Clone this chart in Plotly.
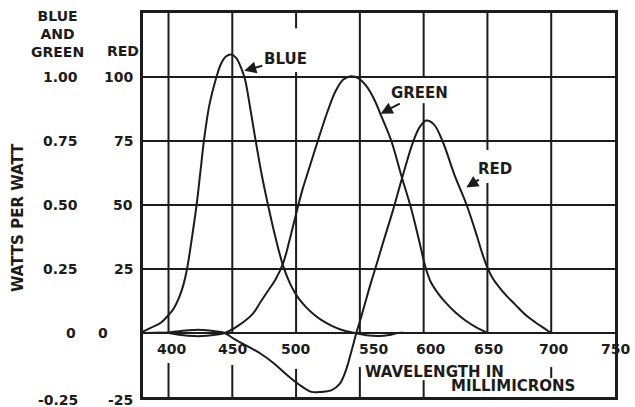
import plotly.graph_objects as go

# ---------------- data ----------------
blue_wl = [380, 386, 394, 400, 404, 408, 411.5, 414.5, 418, 422, 425, 428, 432, 437, 441,
           445, 449, 453, 457, 460, 464, 468, 473, 478, 484, 490, 496, 502, 508, 514,
           520, 528, 536, 546, 555, 565, 573, 580, 586]
blue_val = [0.5, 2, 4, 7, 9.5, 13.5, 18.5, 25, 36, 50, 63, 76, 89, 99, 105,
            108, 108.8, 107.5, 103.5, 99, 88, 76, 62, 50, 37, 26, 18.5, 13.5, 10, 7.2,
            5, 2.8, 1.2, 0, -0.9, -1.2, -0.8, 0, 0]

green_wl = [380, 400, 410, 420, 430, 438, 444, 455, 466, 472, 478, 484, 490, 495, 500,
            505, 511, 517, 525, 531, 537, 543, 549, 555, 561, 567, 574.7, 582.6, 590,
            596, 601, 603.5, 606, 612, 618, 625, 633, 641, 650]
green_val = [0, 0, -0.8, -1.2, -1.1, -0.6, 0, 3, 7.5, 12, 16.5, 21, 27.5, 36.5, 46.5,
             56, 65.5, 75, 87, 94.5, 99, 100.3, 99.5, 96.5, 91.5, 84.5, 75, 61.3, 49,
             37, 26.5, 22.5, 19.5, 15, 11.5, 8, 4.8, 2.3, 0]

red_wl = [380, 400, 410, 420, 430, 438, 444, 452, 464, 472, 482, 492, 502, 512, 520,
          528, 534, 538, 541, 544, 547.5, 550, 554, 558, 562, 568, 576, 582.8, 591.6,
          597, 602, 608, 615, 624, 634, 642, 646, 650, 654, 659, 665, 672, 680, 688,
          694, 700]
red_val = [0, 0.2, 0.8, 1.2, 1.1, 0.6, 0, -2.5, -5.7, -8, -11.6, -16, -20, -23, -23,
           -22.3, -20, -16, -11.5, -6, 0.5, 4.5, 11.5, 18.5, 25, 35, 48, 60, 74.5,
           80.5, 83, 81.5, 74.7, 62, 49.6, 37.5, 31, 25.5, 21.5, 18, 14.5, 11, 7, 4,
           2, 0]

x_ticks = [400, 450, 500, 550, 600, 650, 700, 750]
y_ticks_red = [100, 75, 50, 25, 0, -25]
y_labels_red = ["100", "75", "50", "25", "0", "-25"]
y_labels_bg = ["1.00", "0.75", "0.50", "0.25", "0", "-0.25"]

# ---------------- styling / layout ----------------
INK = "#1c1c1c"
FONT = "DejaVu Sans"
W, H = 635, 407
ML, MR, MT, MB = 143, 20, 13, 10
PW, PH = W - ML - MR, H - MT - MB


def px_x(px):
    """page pixel x -> paper fraction"""
    return (px - ML) / PW


def px_y(py):
    """page pixel y -> paper fraction"""
    return (H - MB - py) / PH


fig = go.Figure()
for wl, val in [(blue_wl, blue_val), (green_wl, green_val), (red_wl, red_val)]:
    fig.add_trace(go.Scatter(x=wl, y=val, mode="lines",
                             line=dict(color=INK, width=2, shape="spline", smoothing=1.0),
                             showlegend=False, hoverinfo="skip"))

shapes = []
for v in [0, 25, 50, 75, 100]:
    shapes.append(dict(type="line", xref="x", yref="y", x0=380, x1=750, y0=v, y1=v,
                       line=dict(color=INK, width=2), layer="below"))
vgrid_segments = {
    400: [(0, 125), (-11.7, -25)],
    450: [(0, 125), (-12.5, -25)],
    500: [(0, 102), (119, 125), (-14, -25)],
    550: [(0, 125), (-13.3, -25)],
    600: [(0, 89.8), (100, 125), (-18.4, -25)],
    650: [(0, 58.6), (71.5, 125)],
    700: [(0, 125), (-13.3, -17.6)],
}
for xv, segs in vgrid_segments.items():
    for y0, y1 in segs:
        shapes.append(dict(type="line", xref="x", yref="y", x0=xv, x1=xv, y0=y0, y1=y1,
                           line=dict(color=INK, width=2), layer="below"))

ann = []
tick_font = dict(family=FONT, size=14, color=INK, weight="bold")
title_font = dict(family=FONT, size=15, color=INK, weight="bold")
x_shift = {400: 2.5, 450: 0, 500: -1, 550: 14, 600: 7, 650: 1.5, 700: 2, 750: 0}
for xv in x_ticks:
    ann.append(dict(x=xv, y=px_y(349), xref="x", yref="paper", text=str(xv),
                    showarrow=False, xanchor="center", yanchor="middle",
                    xshift=x_shift[xv], font=tick_font))

bg_right = {"0": 78}
red_right = {"0": 110}
for v, tr, tb in zip(y_ticks_red, y_labels_red, y_labels_bg):
    yp = px_y(333 - v * 2.56) if v > -25 else px_y(400)
    ann.append(dict(x=px_x(bg_right.get(tb, 80)), y=yp, xref="paper", yref="paper", text=tb,
                    showarrow=False, xanchor="right", yanchor="middle", font=tick_font))
    ann.append(dict(x=px_x(red_right.get(tr, 135)), y=yp, xref="paper", yref="paper", text=tr,
                    showarrow=False, xanchor="right", yanchor="middle", font=tick_font))

# column headers
ann.append(dict(x=px_x(57), y=px_y(34), xref="paper", yref="paper",
                text="BLUE<br>AND<br>GREEN", align="center",
                showarrow=False, xanchor="center", yanchor="middle", font=tick_font))
ann.append(dict(x=px_x(123), y=px_y(51.5), xref="paper", yref="paper", text="RED",
                showarrow=False, xanchor="center", yanchor="middle", font=tick_font))

ann.append(dict(x=px_x(18), y=px_y(217), xref="paper", yref="paper", text="WATTS PER WATT",
                textangle=-90, showarrow=False, xanchor="center", yanchor="middle",
                font=title_font))
ann.append(dict(x=px_x(434), y=px_y(372), xref="paper", yref="paper", text="WAVELENGTH IN",
                showarrow=False, xanchor="center", yanchor="middle", font=title_font))
ann.append(dict(x=px_x(513), y=px_y(386), xref="paper", yref="paper", text="MILLIMICRONS",
                showarrow=False, xanchor="center", yanchor="middle", font=title_font))

for txt, hx, hy, ax, ay in [("BLUE", 458.6, 102.3, 42, -12),
                            ("GREEN", 565.6, 85.5, 40, -21),
                            ("RED", 632.8, 56.6, 30, -19)]:
    ann.append(dict(x=hx, y=hy, xref="x", yref="y", text=txt, showarrow=True,
                    ax=ax, ay=ay, arrowhead=2, arrowsize=1.2, arrowwidth=2,
                    arrowcolor=INK, font=title_font, standoff=1))

fig.update_layout(
    width=W, height=H,
    margin=dict(l=ML, r=MR, t=MT, b=MB),
    paper_bgcolor="white", plot_bgcolor="white",
    xaxis=dict(range=[380, 750], showgrid=False, zeroline=False, showticklabels=False,
               ticks="", showline=True, mirror=True, linecolor=INK, linewidth=2.5),
    yaxis=dict(range=[-25, 125], showgrid=False, zeroline=False, showticklabels=False,
               ticks="", showline=True, mirror=True, linecolor=INK, linewidth=2.5),
    shapes=shapes,
    annotations=ann,
)

fig.write_html("out.html",
               config={"displayModeBar": False},
               post_script="document.body.style.margin='0';document.body.style.overflow='hidden';")
